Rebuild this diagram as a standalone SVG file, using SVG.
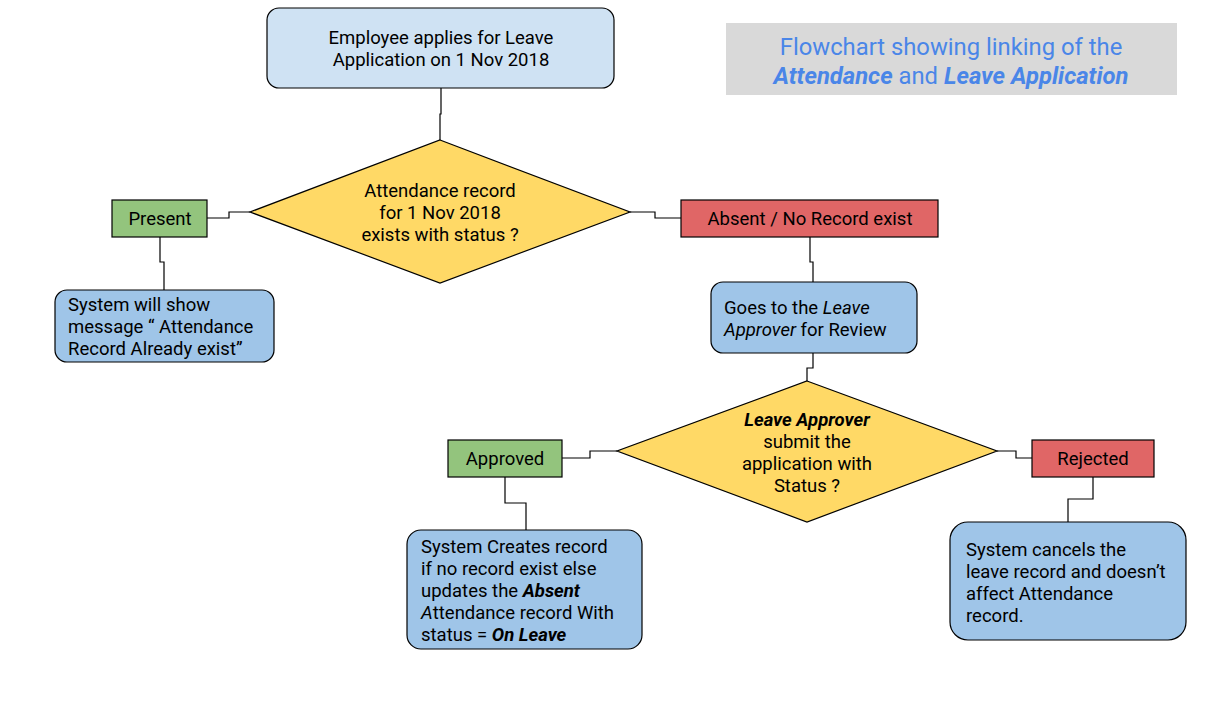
<svg xmlns="http://www.w3.org/2000/svg" width="1212" height="717" viewBox="0 0 1212 717">
<style>
text{font-family:Roboto,"Liberation Sans",sans-serif;font-size:18.5px;fill:#000}
.c{text-anchor:middle}
.bi{font-weight:bold;font-style:italic}
.i{font-style:italic}
.stroke{stroke:#000;stroke-width:1.2}
.blue1{fill:#cfe2f3}
.blue2{fill:#9fc5e8}
.dia{fill:#ffd966}
.grn{fill:#93c47d}
.red{fill:#e06666}
.title{font-size:23.8px;fill:#4a86e8}
.conn{fill:none;stroke:#000;stroke-width:1.2}
</style>
<rect width="1212" height="717" fill="#fff"/>
<g id="connectors">
<polyline class="conn" points="441,88 441,114 440,114 440,140"/>
<polyline class="conn" points="207,218 229,218 229,212 250,212"/>
<polyline class="conn" points="160,237 160,262 164,262 164,290"/>
<polyline class="conn" points="630,212 655,212 655,218 681,218"/>
<polyline class="conn" points="810,237 810,262 813,262 813,282"/>
<polyline class="conn" points="813,353 813,368 807,368 807,381"/>
<polyline class="conn" points="562,458 590,458 590,451 617,451"/>
<polyline class="conn" points="505,477 505,503 526,503 526,530"/>
<polyline class="conn" points="997,451 1016,451 1016,458 1032,458"/>
<polyline class="conn" points="1093,477 1093,499 1068,499 1068,522"/>
</g>
<g id="title">
<rect x="726" y="23" width="451" height="72" fill="#d9d9d9"/>
<text class="c title" x="951" y="55">Flowchart showing linking of the</text>
<text class="c title" x="951" y="84"><tspan class="bi">Attendance</tspan> and <tspan class="bi">Leave Application</tspan></text>
</g>
<g id="start">
<rect class="blue1 stroke" x="267" y="8" width="347" height="80" rx="12"/>
<text class="c" x="441" y="44">Employee applies for Leave</text>
<text class="c" x="441" y="66">Application on 1 Nov 2018</text>
</g>
<g id="decision1">
<polygon class="dia stroke" points="440,140 630,212 440,283 250,212"/>
<text class="c" x="440" y="197">Attendance record</text>
<text class="c" x="440" y="219">for 1 Nov 2018</text>
<text class="c" x="440" y="241">exists with status ?</text>
</g>
<g id="present">
<rect class="grn stroke" x="112" y="200" width="95" height="37"/>
<text class="c" x="160" y="225">Present</text>
</g>
<g id="message">
<rect class="blue2 stroke" x="55" y="290" width="219" height="72" rx="12"/>
<text x="68" y="311">System will show</text>
<text x="68" y="333">message “ Attendance</text>
<text x="68" y="355">Record Already exist”</text>
</g>
<g id="absent">
<rect class="red stroke" x="681" y="200" width="257" height="37"/>
<text class="c" x="810" y="225">Absent / No Record exist</text>
</g>
<g id="review">
<rect class="blue2 stroke" x="711" y="282" width="206" height="71" rx="12"/>
<text x="724" y="314">Goes to the <tspan class="i">Leave</tspan></text>
<text x="724" y="336"><tspan class="i">Approver</tspan> for Review</text>
</g>
<g id="decision2">
<polygon class="dia stroke" points="807,381 997,451 807,522 617,451"/>
<text class="c" x="807" y="426"><tspan class="bi">Leave Approver</tspan></text>
<text class="c" x="807" y="448">submit the</text>
<text class="c" x="807" y="470">application with</text>
<text class="c" x="807" y="492">Status ?</text>
</g>
<g id="approved">
<rect class="grn stroke" x="448" y="440" width="114" height="37"/>
<text class="c" x="505" y="465">Approved</text>
</g>
<g id="creates">
<rect class="blue2 stroke" x="407" y="530" width="235" height="119" rx="14"/>
<text x="421" y="553">System Creates record</text>
<text x="421" y="575">if no record exist else</text>
<text x="421" y="597">updates the <tspan class="bi">Absent</tspan></text>
<text x="421" y="619"><tspan class="i">A</tspan>ttendance record With</text>
<text x="421" y="641">status = <tspan class="bi">On Leave</tspan></text>
</g>
<g id="rejected">
<rect class="red stroke" x="1032" y="440" width="122" height="37"/>
<text class="c" x="1093" y="465">Rejected</text>
</g>
<g id="cancels">
<rect class="blue2 stroke" x="950" y="522" width="236" height="118" rx="18"/>
<text x="966" y="556">System cancels the</text>
<text x="966" y="578">leave record and doesn’t</text>
<text x="966" y="600">affect Attendance</text>
<text x="966" y="622">record.</text>
</g>
</svg>
